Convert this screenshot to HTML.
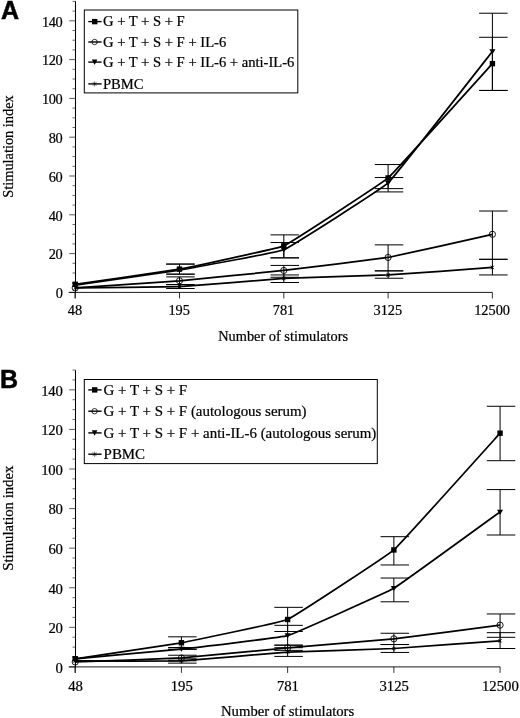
<!DOCTYPE html>
<html><head><meta charset="utf-8"><title>Figure</title>
<style>
html,body{margin:0;padding:0;background:#fff;}
body{width:520px;height:718px;overflow:hidden;}
svg{display:block;will-change:transform;}
.ta{font-family:"Liberation Serif",serif;font-size:14.35px;fill:#000;stroke:#000;stroke-width:0.22px;}
.la{font-family:"Liberation Serif",serif;font-size:14.6px;fill:#000;stroke:#000;stroke-width:0.22px;}
.tb{font-family:"Liberation Serif",serif;font-size:14.72px;fill:#000;stroke:#000;stroke-width:0.22px;}
.lb{font-family:"Liberation Serif",serif;font-size:14.93px;fill:#000;stroke:#000;stroke-width:0.22px;}
.b{font-family:"Liberation Sans",sans-serif;font-weight:bold;font-size:25px;fill:#000;stroke:#000;stroke-width:0.5px;}
</style></head><body>
<svg width="520" height="718" viewBox="0 0 520 718">
<rect width="520" height="718" fill="#fff"/>
<g>
<path d="M75.50,1.20 V292.40" stroke="#000" stroke-width="1.05" fill="none"/>
<path d="M75.20,292.40 V298.40" stroke="#000" stroke-width="0.8" fill="none"/>
<path d="M68.70,292.40 H492.40" stroke="#000" stroke-width="0.9" fill="none"/>
<path d="M69.20,292.40 H75.50" stroke="#000" stroke-width="0.65"/>
<text x="62.5" y="298.20" text-anchor="end" class="ta" letter-spacing="-0.3">0</text>
<path d="M72.50,282.70 H75.50" stroke="#000" stroke-width="0.6"/>
<path d="M72.50,273.00 H75.50" stroke="#000" stroke-width="0.6"/>
<path d="M72.50,263.30 H75.50" stroke="#000" stroke-width="0.6"/>
<path d="M69.20,253.60 H75.50" stroke="#000" stroke-width="0.65"/>
<text x="62.5" y="259.40" text-anchor="end" class="ta" letter-spacing="-0.3">20</text>
<path d="M72.50,243.90 H75.50" stroke="#000" stroke-width="0.6"/>
<path d="M72.50,234.20 H75.50" stroke="#000" stroke-width="0.6"/>
<path d="M72.50,224.50 H75.50" stroke="#000" stroke-width="0.6"/>
<path d="M69.20,214.80 H75.50" stroke="#000" stroke-width="0.65"/>
<text x="62.5" y="220.60" text-anchor="end" class="ta" letter-spacing="-0.3">40</text>
<path d="M72.50,205.10 H75.50" stroke="#000" stroke-width="0.6"/>
<path d="M72.50,195.40 H75.50" stroke="#000" stroke-width="0.6"/>
<path d="M72.50,185.70 H75.50" stroke="#000" stroke-width="0.6"/>
<path d="M69.20,176.00 H75.50" stroke="#000" stroke-width="0.65"/>
<text x="62.5" y="181.80" text-anchor="end" class="ta" letter-spacing="-0.3">60</text>
<path d="M72.50,166.30 H75.50" stroke="#000" stroke-width="0.6"/>
<path d="M72.50,156.60 H75.50" stroke="#000" stroke-width="0.6"/>
<path d="M72.50,146.90 H75.50" stroke="#000" stroke-width="0.6"/>
<path d="M69.20,137.20 H75.50" stroke="#000" stroke-width="0.65"/>
<text x="62.5" y="143.00" text-anchor="end" class="ta" letter-spacing="-0.3">80</text>
<path d="M72.50,127.50 H75.50" stroke="#000" stroke-width="0.6"/>
<path d="M72.50,117.80 H75.50" stroke="#000" stroke-width="0.6"/>
<path d="M72.50,108.10 H75.50" stroke="#000" stroke-width="0.6"/>
<path d="M69.20,98.40 H75.50" stroke="#000" stroke-width="0.65"/>
<text x="62.5" y="104.20" text-anchor="end" class="ta" letter-spacing="-0.3">100</text>
<path d="M72.50,88.70 H75.50" stroke="#000" stroke-width="0.6"/>
<path d="M72.50,79.00 H75.50" stroke="#000" stroke-width="0.6"/>
<path d="M72.50,69.30 H75.50" stroke="#000" stroke-width="0.6"/>
<path d="M69.20,59.60 H75.50" stroke="#000" stroke-width="0.65"/>
<text x="62.5" y="65.40" text-anchor="end" class="ta" letter-spacing="-0.3">120</text>
<path d="M72.50,49.90 H75.50" stroke="#000" stroke-width="0.6"/>
<path d="M72.50,40.20 H75.50" stroke="#000" stroke-width="0.6"/>
<path d="M72.50,30.50 H75.50" stroke="#000" stroke-width="0.6"/>
<path d="M69.20,20.80 H75.50" stroke="#000" stroke-width="0.65"/>
<text x="62.5" y="26.60" text-anchor="end" class="ta" letter-spacing="-0.3">140</text>
<path d="M72.50,11.10 H75.50" stroke="#000" stroke-width="0.6"/>
<path d="M72.50,1.40 H75.50" stroke="#000" stroke-width="0.6"/>
<path d="M75.20,292.40 V298.40" stroke="#000" stroke-width="0.8"/>
<text x="74.90" y="315.20" text-anchor="middle" class="ta">48</text>
<path d="M179.50,292.40 V298.40" stroke="#000" stroke-width="0.8"/>
<text x="179.20" y="315.20" text-anchor="middle" class="ta">195</text>
<path d="M283.80,292.40 V298.40" stroke="#000" stroke-width="0.8"/>
<text x="283.50" y="315.20" text-anchor="middle" class="ta">781</text>
<path d="M388.10,292.40 V298.40" stroke="#000" stroke-width="0.8"/>
<text x="387.80" y="315.20" text-anchor="middle" class="ta">3125</text>
<path d="M492.40,292.40 V298.40" stroke="#000" stroke-width="0.8"/>
<text x="492.10" y="315.20" text-anchor="middle" class="ta">12500</text>
<path d="M179.50,264.08 V274.16 M166.20,264.08 H194.70 M166.20,274.16 H194.70" stroke="#000" stroke-width="1" fill="none"/>
<path d="M283.80,234.88 V257.87 M270.50,234.88 H299.00 M270.50,257.87 H299.00" stroke="#000" stroke-width="1" fill="none"/>
<path d="M388.10,164.55 V191.91 M374.80,164.55 H403.30 M374.80,191.91 H403.30" stroke="#000" stroke-width="1" fill="none"/>
<path d="M492.40,37.29 V90.45 M479.10,37.29 H507.60 M479.10,90.45 H507.60" stroke="#000" stroke-width="1" fill="none"/>
<path d="M179.50,264.08 V274.16 M166.20,264.08 H194.70 M166.20,274.16 H194.70" stroke="#000" stroke-width="1" fill="none"/>
<path d="M283.80,242.54 V257.87 M270.50,242.54 H299.00 M270.50,257.87 H299.00" stroke="#000" stroke-width="1" fill="none"/>
<path d="M388.10,177.55 V188.61 M374.80,177.55 H403.30 M374.80,188.61 H403.30" stroke="#000" stroke-width="1" fill="none"/>
<path d="M492.40,13.23 V90.45 M479.10,13.23 H507.60 M479.10,90.45 H507.60" stroke="#000" stroke-width="1" fill="none"/>
<path d="M179.50,276.88 V284.64 M166.20,276.88 H194.70 M166.20,284.64 H194.70" stroke="#000" stroke-width="1" fill="none"/>
<path d="M283.80,265.43 V277.27 M270.50,265.43 H299.00 M270.50,277.27 H299.00" stroke="#000" stroke-width="1" fill="none"/>
<path d="M388.10,244.87 V270.87 M374.80,244.87 H403.30 M374.80,270.87 H403.30" stroke="#000" stroke-width="1" fill="none"/>
<path d="M492.40,211.02 V259.32 M479.10,211.02 H507.60 M479.10,259.32 H507.60" stroke="#000" stroke-width="1" fill="none"/>
<path d="M179.50,284.64 V288.52 M166.20,284.64 H194.70 M166.20,288.52 H194.70" stroke="#000" stroke-width="1" fill="none"/>
<path d="M283.80,274.94 V282.51 M270.50,274.94 H299.00 M270.50,282.51 H299.00" stroke="#000" stroke-width="1" fill="none"/>
<path d="M388.10,270.87 V278.24 M374.80,270.87 H403.30 M374.80,278.24 H403.30" stroke="#000" stroke-width="1" fill="none"/>
<path d="M492.40,259.32 V274.94 M479.10,259.32 H507.60 M479.10,274.94 H507.60" stroke="#000" stroke-width="1" fill="none"/>
<path d="M75.20,284.25 C78.46,283.78 172.98,270.32 179.50,269.12 C186.02,267.92 277.28,248.69 283.80,245.84 C290.32,242.99 381.58,183.63 388.10,177.94 C394.62,172.25 489.14,67.24 492.40,63.67" stroke="#000" stroke-width="1.75" fill="none" stroke-linejoin="round"/>
<path d="M75.20,285.03 C78.46,284.56 172.98,271.19 179.50,270.09 C186.02,268.99 277.28,252.44 283.80,249.72 C290.32,247.00 381.58,189.18 388.10,182.98 C394.62,176.79 489.14,55.56 492.40,51.45" stroke="#000" stroke-width="1.75" fill="none" stroke-linejoin="round"/>
<path d="M75.20,287.94 C78.46,287.71 172.98,281.31 179.50,280.76 C186.02,280.21 277.28,271.21 283.80,270.48 C290.32,269.75 381.58,258.61 388.10,257.48 C394.62,256.35 489.14,235.02 492.40,234.30" stroke="#000" stroke-width="1.75" fill="none" stroke-linejoin="round"/>
<path d="M75.20,287.94 C78.46,287.90 172.98,286.88 179.50,286.58 C186.02,286.28 277.28,278.80 283.80,278.43 C290.32,278.07 381.58,275.28 388.10,274.94 C394.62,274.60 489.14,267.70 492.40,267.47" stroke="#000" stroke-width="1.75" fill="none" stroke-linejoin="round"/>
<rect x="72.50" y="281.55" width="5.4" height="5.4" fill="#000"/>
<rect x="176.80" y="266.42" width="5.4" height="5.4" fill="#000"/>
<rect x="281.10" y="243.14" width="5.4" height="5.4" fill="#000"/>
<rect x="385.40" y="175.24" width="5.4" height="5.4" fill="#000"/>
<rect x="489.70" y="60.97" width="5.4" height="5.4" fill="#000"/>
<path d="M72.10,282.73 L78.30,282.73 L75.20,287.73 Z" fill="#000"/>
<path d="M176.40,267.79 L182.60,267.79 L179.50,272.79 Z" fill="#000"/>
<path d="M280.70,247.42 L286.90,247.42 L283.80,252.42 Z" fill="#000"/>
<path d="M385.00,180.68 L391.20,180.68 L388.10,185.68 Z" fill="#000"/>
<path d="M489.30,49.15 L495.50,49.15 L492.40,54.15 Z" fill="#000"/>
<circle cx="75.20" cy="287.94" r="3.1" fill="none" stroke="#000" stroke-width="0.9"/>
<circle cx="179.50" cy="280.76" r="3.1" fill="none" stroke="#000" stroke-width="0.9"/>
<circle cx="283.80" cy="270.48" r="3.1" fill="none" stroke="#000" stroke-width="0.9"/>
<circle cx="388.10" cy="257.48" r="3.1" fill="none" stroke="#000" stroke-width="0.9"/>
<circle cx="492.40" cy="234.30" r="3.1" fill="none" stroke="#000" stroke-width="0.9"/>
<path d="M73.50,286.24 L76.90,289.64 M73.50,289.64 L76.90,286.24 M75.20,285.64 L75.20,290.24" stroke="#000" stroke-width="0.8" fill="none"/>
<path d="M177.80,284.88 L181.20,288.28 M177.80,288.28 L181.20,284.88 M179.50,284.28 L179.50,288.88" stroke="#000" stroke-width="0.8" fill="none"/>
<path d="M282.10,276.73 L285.50,280.13 M282.10,280.13 L285.50,276.73 M283.80,276.13 L283.80,280.73" stroke="#000" stroke-width="0.8" fill="none"/>
<path d="M386.40,273.24 L389.80,276.64 M386.40,276.64 L389.80,273.24 M388.10,272.64 L388.10,277.24" stroke="#000" stroke-width="0.8" fill="none"/>
<path d="M490.70,265.77 L494.10,269.17 M490.70,269.17 L494.10,265.77 M492.40,265.17 L492.40,269.77" stroke="#000" stroke-width="0.8" fill="none"/>
<rect x="84.30" y="10.00" width="213.50" height="82.90" fill="#fff" stroke="#000" stroke-width="1"/>
<path d="M88.3,21.60 H101.6" stroke="#000" stroke-width="1.4"/>
<rect x="92.00" y="18.90" width="5.4" height="5.4" fill="#000"/>
<text x="103.00" y="26.30" class="la">G + T + S + F</text>
<path d="M88.3,42.00 H101.6" stroke="#000" stroke-width="1.4"/>
<circle cx="94.6" cy="42.00" r="2.7" fill="none" stroke="#000" stroke-width="0.8"/>
<text x="103.00" y="46.70" class="la">G + T + S + F + IL-6</text>
<path d="M88.3,62.10 H101.6" stroke="#000" stroke-width="1.4"/>
<path d="M91.8,59.50 L97.4,59.50 L94.6,64.90 Z" fill="#000"/>
<text x="103.00" y="66.80" class="la">G + T + S + F + IL-6 + anti-IL-6</text>
<path d="M88.3,83.90 H101.6" stroke="#000" stroke-width="1.4"/>
<path d="M92.6,81.90 L96.6,85.90 M92.6,85.90 L96.6,81.90 M94.6,81.30 V86.50" stroke="#000" stroke-width="0.5" fill="none"/>
<text x="103.00" y="88.60" class="la">PBMC</text>
<text x="283.20" y="341.30" text-anchor="middle" class="ta">Number of stimulators</text>
<text transform="translate(12.8,146.50) rotate(-90)" text-anchor="middle" class="ta">Stimulation index</text>
<text x="0.90" y="18.90" class="b">A</text>
</g>
<g>
<path d="M75.50,370.20 V666.90" stroke="#000" stroke-width="1.05" fill="none"/>
<path d="M75.20,666.90 V672.90" stroke="#000" stroke-width="0.8" fill="none"/>
<path d="M68.70,666.90 H500.08" stroke="#000" stroke-width="0.9" fill="none"/>
<path d="M69.20,666.90 H75.50" stroke="#000" stroke-width="0.65"/>
<text x="62.5" y="672.70" text-anchor="end" class="tb" letter-spacing="-0.3">0</text>
<path d="M72.50,657.00 H75.50" stroke="#000" stroke-width="0.6"/>
<path d="M72.50,647.11 H75.50" stroke="#000" stroke-width="0.6"/>
<path d="M72.50,637.21 H75.50" stroke="#000" stroke-width="0.6"/>
<path d="M69.20,627.32 H75.50" stroke="#000" stroke-width="0.65"/>
<text x="62.5" y="633.12" text-anchor="end" class="tb" letter-spacing="-0.3">20</text>
<path d="M72.50,617.42 H75.50" stroke="#000" stroke-width="0.6"/>
<path d="M72.50,607.53 H75.50" stroke="#000" stroke-width="0.6"/>
<path d="M72.50,597.63 H75.50" stroke="#000" stroke-width="0.6"/>
<path d="M69.20,587.74 H75.50" stroke="#000" stroke-width="0.65"/>
<text x="62.5" y="593.54" text-anchor="end" class="tb" letter-spacing="-0.3">40</text>
<path d="M72.50,577.85 H75.50" stroke="#000" stroke-width="0.6"/>
<path d="M72.50,567.95 H75.50" stroke="#000" stroke-width="0.6"/>
<path d="M72.50,558.05 H75.50" stroke="#000" stroke-width="0.6"/>
<path d="M69.20,548.16 H75.50" stroke="#000" stroke-width="0.65"/>
<text x="62.5" y="553.96" text-anchor="end" class="tb" letter-spacing="-0.3">60</text>
<path d="M72.50,538.26 H75.50" stroke="#000" stroke-width="0.6"/>
<path d="M72.50,528.37 H75.50" stroke="#000" stroke-width="0.6"/>
<path d="M72.50,518.47 H75.50" stroke="#000" stroke-width="0.6"/>
<path d="M69.20,508.58 H75.50" stroke="#000" stroke-width="0.65"/>
<text x="62.5" y="514.38" text-anchor="end" class="tb" letter-spacing="-0.3">80</text>
<path d="M72.50,498.68 H75.50" stroke="#000" stroke-width="0.6"/>
<path d="M72.50,488.79 H75.50" stroke="#000" stroke-width="0.6"/>
<path d="M72.50,478.89 H75.50" stroke="#000" stroke-width="0.6"/>
<path d="M69.20,469.00 H75.50" stroke="#000" stroke-width="0.65"/>
<text x="62.5" y="474.80" text-anchor="end" class="tb" letter-spacing="-0.3">100</text>
<path d="M72.50,459.10 H75.50" stroke="#000" stroke-width="0.6"/>
<path d="M72.50,449.21 H75.50" stroke="#000" stroke-width="0.6"/>
<path d="M72.50,439.31 H75.50" stroke="#000" stroke-width="0.6"/>
<path d="M69.20,429.42 H75.50" stroke="#000" stroke-width="0.65"/>
<text x="62.5" y="435.22" text-anchor="end" class="tb" letter-spacing="-0.3">120</text>
<path d="M72.50,419.52 H75.50" stroke="#000" stroke-width="0.6"/>
<path d="M72.50,409.63 H75.50" stroke="#000" stroke-width="0.6"/>
<path d="M72.50,399.73 H75.50" stroke="#000" stroke-width="0.6"/>
<path d="M69.20,389.84 H75.50" stroke="#000" stroke-width="0.65"/>
<text x="62.5" y="395.64" text-anchor="end" class="tb" letter-spacing="-0.3">140</text>
<path d="M72.50,379.94 H75.50" stroke="#000" stroke-width="0.6"/>
<path d="M72.50,370.05 H75.50" stroke="#000" stroke-width="0.6"/>
<path d="M75.20,666.90 V672.90" stroke="#000" stroke-width="0.8"/>
<text x="75.50" y="690.80" text-anchor="middle" class="tb">48</text>
<path d="M181.42,666.90 V672.90" stroke="#000" stroke-width="0.8"/>
<text x="181.72" y="690.80" text-anchor="middle" class="tb">195</text>
<path d="M287.64,666.90 V672.90" stroke="#000" stroke-width="0.8"/>
<text x="287.94" y="690.80" text-anchor="middle" class="tb">781</text>
<path d="M393.86,666.90 V672.90" stroke="#000" stroke-width="0.8"/>
<text x="394.16" y="690.80" text-anchor="middle" class="tb">3125</text>
<path d="M500.08,666.90 V672.90" stroke="#000" stroke-width="0.8"/>
<text x="500.38" y="690.80" text-anchor="middle" class="tb">12500</text>
<path d="M181.42,636.82 V649.29 M168.12,636.82 H196.62 M168.12,649.29 H196.62" stroke="#000" stroke-width="1" fill="none"/>
<path d="M287.64,607.33 V631.48 M274.34,607.33 H302.84 M274.34,631.48 H302.84" stroke="#000" stroke-width="1" fill="none"/>
<path d="M393.86,536.68 V564.98 M380.56,536.68 H409.06 M380.56,564.98 H409.06" stroke="#000" stroke-width="1" fill="none"/>
<path d="M500.08,406.27 V460.69 M486.78,406.27 H515.28 M486.78,460.69 H515.28" stroke="#000" stroke-width="1" fill="none"/>
<path d="M181.42,647.51 V649.29 M168.12,647.51 H196.62 M168.12,649.29 H196.62" stroke="#000" stroke-width="1" fill="none"/>
<path d="M287.64,625.34 V645.13 M274.34,625.34 H302.84 M274.34,645.13 H302.84" stroke="#000" stroke-width="1" fill="none"/>
<path d="M393.86,578.04 V601.79 M380.56,578.04 H409.06 M380.56,601.79 H409.06" stroke="#000" stroke-width="1" fill="none"/>
<path d="M500.08,489.58 V535.00 M486.78,489.58 H515.28 M486.78,535.00 H515.28" stroke="#000" stroke-width="1" fill="none"/>
<path d="M181.42,655.22 V660.77 M168.12,655.22 H196.62 M168.12,660.77 H196.62" stroke="#000" stroke-width="1" fill="none"/>
<path d="M287.64,645.23 V650.38 M274.34,645.23 H302.84 M274.34,650.38 H302.84" stroke="#000" stroke-width="1" fill="none"/>
<path d="M393.86,633.26 V644.54 M380.56,633.26 H409.06 M380.56,644.54 H409.06" stroke="#000" stroke-width="1" fill="none"/>
<path d="M500.08,613.96 V637.31 M486.78,613.96 H515.28 M486.78,637.31 H515.28" stroke="#000" stroke-width="1" fill="none"/>
<path d="M181.42,658.79 V663.14 M168.12,658.79 H196.62 M168.12,663.14 H196.62" stroke="#000" stroke-width="1" fill="none"/>
<path d="M287.64,647.70 V656.41 M274.34,647.70 H302.84 M274.34,656.41 H302.84" stroke="#000" stroke-width="1" fill="none"/>
<path d="M393.86,644.54 V652.45 M380.56,644.54 H409.06 M380.56,652.45 H409.06" stroke="#000" stroke-width="1" fill="none"/>
<path d="M500.08,632.66 V648.50 M486.78,632.66 H515.28 M486.78,648.50 H515.28" stroke="#000" stroke-width="1" fill="none"/>
<path d="M75.20,658.79 C78.52,658.29 174.78,643.98 181.42,642.76 C188.06,641.53 281.00,622.40 287.64,619.50 C294.28,616.60 387.22,555.76 393.86,549.94 C400.50,544.12 496.76,436.83 500.08,433.18" stroke="#000" stroke-width="1.75" fill="none" stroke-linejoin="round"/>
<path d="M75.20,658.79 C78.52,658.48 174.78,649.81 181.42,649.09 C188.06,648.37 281.00,637.53 287.64,635.63 C294.28,633.73 387.22,592.20 393.86,588.33 C400.50,584.47 496.76,514.33 500.08,511.94" stroke="#000" stroke-width="1.75" fill="none" stroke-linejoin="round"/>
<path d="M75.20,661.95 C78.52,661.83 174.78,658.44 181.42,657.99 C188.06,657.55 281.00,648.40 287.64,647.80 C294.28,647.20 387.22,639.51 393.86,638.80 C400.50,638.09 496.76,625.57 500.08,625.14" stroke="#000" stroke-width="1.75" fill="none" stroke-linejoin="round"/>
<path d="M75.20,660.96 C78.52,660.96 174.78,661.24 181.42,660.96 C188.06,660.68 281.00,652.45 287.64,652.06 C294.28,651.67 387.22,648.85 393.86,648.50 C400.50,648.14 496.76,641.02 500.08,640.78" stroke="#000" stroke-width="1.75" fill="none" stroke-linejoin="round"/>
<rect x="72.50" y="656.09" width="5.4" height="5.4" fill="#000"/>
<rect x="178.72" y="640.06" width="5.4" height="5.4" fill="#000"/>
<rect x="284.94" y="616.80" width="5.4" height="5.4" fill="#000"/>
<rect x="391.16" y="547.24" width="5.4" height="5.4" fill="#000"/>
<rect x="497.38" y="430.48" width="5.4" height="5.4" fill="#000"/>
<path d="M72.10,656.49 L78.30,656.49 L75.20,661.49 Z" fill="#000"/>
<path d="M178.32,646.79 L184.52,646.79 L181.42,651.79 Z" fill="#000"/>
<path d="M284.54,633.33 L290.74,633.33 L287.64,638.33 Z" fill="#000"/>
<path d="M390.76,586.03 L396.96,586.03 L393.86,591.03 Z" fill="#000"/>
<path d="M496.98,509.64 L503.18,509.64 L500.08,514.64 Z" fill="#000"/>
<circle cx="75.20" cy="661.95" r="3.1" fill="none" stroke="#000" stroke-width="0.9"/>
<circle cx="181.42" cy="657.99" r="3.1" fill="none" stroke="#000" stroke-width="0.9"/>
<circle cx="287.64" cy="647.80" r="3.1" fill="none" stroke="#000" stroke-width="0.9"/>
<circle cx="393.86" cy="638.80" r="3.1" fill="none" stroke="#000" stroke-width="0.9"/>
<circle cx="500.08" cy="625.14" r="3.1" fill="none" stroke="#000" stroke-width="0.9"/>
<path d="M73.50,659.26 L76.90,662.66 M73.50,662.66 L76.90,659.26 M75.20,658.66 L75.20,663.26" stroke="#000" stroke-width="0.8" fill="none"/>
<path d="M179.72,659.26 L183.12,662.66 M179.72,662.66 L183.12,659.26 M181.42,658.66 L181.42,663.26" stroke="#000" stroke-width="0.8" fill="none"/>
<path d="M285.94,650.36 L289.34,653.76 M285.94,653.76 L289.34,650.36 M287.64,649.76 L287.64,654.36" stroke="#000" stroke-width="0.8" fill="none"/>
<path d="M392.16,646.80 L395.56,650.20 M392.16,650.20 L395.56,646.80 M393.86,646.20 L393.86,650.80" stroke="#000" stroke-width="0.8" fill="none"/>
<path d="M498.38,639.08 L501.78,642.48 M498.38,642.48 L501.78,639.08 M500.08,638.48 L500.08,643.08" stroke="#000" stroke-width="0.8" fill="none"/>
<rect x="84.30" y="379.50" width="293.00" height="84.10" fill="#fff" stroke="#000" stroke-width="1"/>
<path d="M88.3,389.90 H101.6" stroke="#000" stroke-width="1.4"/>
<rect x="92.00" y="387.20" width="5.4" height="5.4" fill="#000"/>
<text x="103.60" y="394.60" class="lb">G + T + S + F</text>
<path d="M88.3,411.20 H101.6" stroke="#000" stroke-width="1.4"/>
<circle cx="94.6" cy="411.20" r="2.7" fill="none" stroke="#000" stroke-width="0.8"/>
<text x="103.60" y="415.90" class="lb">G + T + S + F (autologous serum)</text>
<path d="M88.3,432.90 H101.6" stroke="#000" stroke-width="1.4"/>
<path d="M91.8,430.30 L97.4,430.30 L94.6,435.70 Z" fill="#000"/>
<text x="103.60" y="437.60" class="lb">G + T + S + F + anti-IL-6 (autologous serum)</text>
<path d="M88.3,454.20 H101.6" stroke="#000" stroke-width="1.4"/>
<path d="M92.6,452.20 L96.6,456.20 M92.6,456.20 L96.6,452.20 M94.6,451.60 V456.80" stroke="#000" stroke-width="0.5" fill="none"/>
<text x="103.60" y="458.90" class="lb">PBMC</text>
<text x="287.64" y="716.40" text-anchor="middle" class="tb">Number of stimulators</text>
<text transform="translate(12.8,518.20) rotate(-90)" text-anchor="middle" class="tb">Stimulation index</text>
<text x="0.10" y="387.50" class="b">B</text>
</g>
</svg>
</body></html>
